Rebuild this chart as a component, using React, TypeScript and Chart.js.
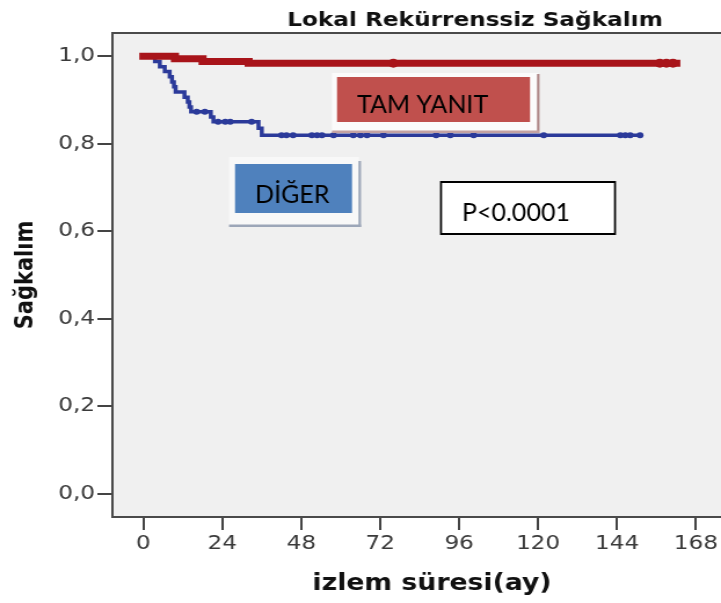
import React, { useEffect, useRef } from 'react';
import { Chart, registerables } from 'chart.js';

Chart.register(...registerables);

// ---- data ----
const chartTitle = 'Lokal Rekürrenssiz Sağkalım';
const xAxisTitle = 'izlem süresi(ay)';
const yAxisTitle = 'Sağkalım';

const xTickValues = [0, 24, 48, 72, 96, 120, 144, 168];
const yTickValues = [0, 0.2, 0.4, 0.6, 0.8, 1.0];

// TAM YANIT (complete response) - Kaplan-Meier steps
const redTimes = [0, 9.6, 18, 32, 162];
const redSurv = [1.0, 0.994, 0.988, 0.984, 0.984];
const redCensorTimes = [76, 157, 159, 161];

// DİĞER (other) - Kaplan-Meier steps
const blueTimes = [0, 3.5, 5, 6.5, 8, 8.7, 9.3, 9.8, 12.5, 13.5, 14, 14.5, 20.5, 21.3, 35, 36, 151];
const blueSurv = [1.0, 0.988, 0.976, 0.965, 0.953, 0.941, 0.93, 0.918, 0.906, 0.895, 0.884, 0.873, 0.861, 0.85, 0.835, 0.819, 0.819];
const blueCensorTimes = [16.2, 18.7, 22.7, 24.9, 26.4, 32.9, 42, 43.5, 45.5, 51.2, 52.8, 54.3, 57.8, 63.8, 66, 68, 73, 89, 93.3, 100.4, 121.7, 145, 146.5, 148, 151];

const groupLabels = ['TAM YANIT', 'DİĞER'];
const pValueText = 'P<0.0001';

// ---- layout constants ----
const SCREEN_W = 721;
const SCREEN_H = 603;
const CANVAS_W = 622;
const SX = SCREEN_W / CANVAS_W; // horizontal stretch of the chart picture

const survAt = (times: number[], surv: number[], t: number) => {
  let s = surv[0];
  for (let i = 0; i < times.length; i++) if (times[i] <= t) s = surv[i];
  return s;
};

const RED = '#a8141a';
const BLUE = '#2b3a9a';

const decorPlugin = {
  id: 'decor',
  beforeDraw(chart: any) {
    const { ctx, chartArea: a } = chart;
    ctx.save();
    ctx.fillStyle = '#ffffff';
    ctx.fillRect(0, 0, chart.width, chart.height);
    ctx.fillStyle = '#f0f0f0';
    ctx.fillRect(a.left, a.top, a.right - a.left, a.bottom - a.top);
    ctx.restore();
  },
  afterDraw(chart: any) {
    const { ctx, chartArea: a } = chart;
    ctx.save();
    // frame
    ctx.strokeStyle = '#4a4a4a';
    ctx.lineWidth = 2;
    ctx.strokeRect(a.left, a.top, a.right - a.left + 10, a.bottom - a.top);

    // titles (stretched with the chart)
    ctx.fillStyle = '#111';
    ctx.textAlign = 'center';
    ctx.textBaseline = 'alphabetic';
    ctx.font = 'bold 20px "DejaVu Sans"';
    ctx.fillText(chartTitle, 475 / SX, 26);
    ctx.font = 'bold 23px "DejaVu Sans"';
    ctx.fillText(xAxisTitle, 432 / SX, 590);
    ctx.save();
    ctx.translate(33 / SX, 275);
    ctx.rotate(-Math.PI / 2);
    ctx.font = 'bold 21px "DejaVu Sans"';
    ctx.fillText(yAxisTitle, 0, 0);
    ctx.restore();

    // annotation boxes (not stretched) - work in screen coordinates
    ctx.save();
    ctx.scale(1 / SX, 1);
    ctx.textAlign = 'left';
    ctx.textBaseline = 'alphabetic';
    ctx.font = '25px Lato';

    // TAM YANIT
    ctx.fillStyle = '#fbfbfb';
    ctx.fillRect(332, 73, 206, 58);
    ctx.fillStyle = '#b08a8a';
    ctx.fillRect(537, 74, 2.5, 59);
    ctx.fillStyle = '#c4a2a2';
    ctx.fillRect(332, 130.5, 207, 2.5);
    ctx.fillStyle = '#c0504d';
    ctx.fillRect(337, 77, 193, 45);
    ctx.fillStyle = '#000';
    ctx.fillText(groupLabels[0], 357, 113);

    // DİĞER
    ctx.fillStyle = '#f8f8f8';
    ctx.fillRect(229, 157, 130, 68);
    ctx.fillStyle = '#9ca6b8';
    ctx.fillRect(358.5, 161, 2.5, 66);
    ctx.fillRect(229, 224.5, 132, 2.5);
    ctx.fillStyle = '#4f81bd';
    ctx.fillRect(235, 164, 117, 49);
    ctx.fillStyle = '#000';
    ctx.fillText(groupLabels[1], 255, 203);

    // p value
    ctx.fillStyle = '#ffffff';
    ctx.fillRect(440, 181, 176, 54);
    ctx.strokeStyle = '#000';
    ctx.lineWidth = 2;
    ctx.strokeRect(441, 182, 174, 52);
    ctx.fillStyle = '#000';
    ctx.fillText(pValueText, 462, 221);
    ctx.restore();

    ctx.restore();
  },
};

export default function App() {
  const canvasRef = useRef<HTMLCanvasElement | null>(null);

  useEffect(() => {
    const canvas = canvasRef.current;
    if (!canvas) return;

    const redLine = redTimes.map((t, i) => ({ x: t, y: redSurv[i] }));
    const blueLine = blueTimes.map((t, i) => ({ x: t, y: blueSurv[i] }));
    const redCens = redCensorTimes.map((t) => ({ x: t, y: survAt(redTimes, redSurv, t) }));
    const blueCens = blueCensorTimes.map((t) => ({ x: t, y: survAt(blueTimes, blueSurv, t) }));

    const tickFont = { family: '"DejaVu Sans"', size: 20 };

    const chart = new Chart(canvas, {
      type: 'line',
      data: {
        datasets: [
          {
            label: 'TAM YANIT',
            data: redLine,
            stepped: 'before',
            borderColor: RED,
            borderWidth: 7,
            borderCapStyle: 'square',
            pointRadius: 0,
            fill: false,
            order: 1,
          } as any,
          {
            label: 'TAM YANIT censored',
            data: redCens,
            showLine: false,
            pointStyle: 'circle',
            pointRadius: 4.5,
            pointBackgroundColor: RED,
            pointBorderWidth: 0,
            order: 2,
          } as any,
          {
            label: 'DİĞER',
            data: blueLine,
            stepped: 'before',
            borderColor: BLUE,
            borderWidth: 3.5,
            pointRadius: 0,
            fill: false,
            order: 3,
          } as any,
          {
            label: 'DİĞER censored',
            data: blueCens,
            showLine: false,
            pointStyle: 'circle',
            pointRadius: 3,
            pointBackgroundColor: BLUE,
            pointBorderWidth: 0,
            order: 4,
          } as any,
        ],
      },
      options: {
        responsive: false,
        animation: false,
        devicePixelRatio: 1,
        layout: { padding: { top: 33, right: 0, left: 0, bottom: 0 }, autoPadding: false } as any,
        plugins: {
          legend: { display: false },
          tooltip: { enabled: false },
          title: { display: false },
        },
        scales: {
          x: {
            type: 'linear',
            min: -9.4,
            max: 175.6,
            afterBuildTicks: (s: any) => {
              s.ticks = xTickValues.map((v) => ({ value: v }));
            },
            afterFit: (s: any) => {
              s.height = 86;
            },
            ticks: {
              font: tickFont,
              color: '#3a3a3a',
              padding: 2,
              maxRotation: 0,
              autoSkip: false,
              callback: (v: any) => String(v),
            },
            grid: {
              drawOnChartArea: false,
              drawTicks: true,
              tickLength: 13,
              tickColor: '#444',
              lineWidth: 2,
            },
            border: { display: false },
          },
          y: {
            type: 'linear',
            min: -0.0535,
            max: 1.053,
            afterBuildTicks: (s: any) => {
              s.ticks = yTickValues.map((v) => ({ value: v }));
            },
            afterFit: (s: any) => {
              s.width = 97;
            },
            ticks: {
              font: tickFont,
              color: '#3a3a3a',
              padding: 2,
              autoSkip: false,
              callback: (v: any) => Number(v).toFixed(1).replace('.', ','),
            },
            grid: {
              drawOnChartArea: false,
              drawTicks: true,
              tickLength: 13,
              tickColor: '#444',
              lineWidth: 2,
            },
            border: { display: false },
          },
        },
      } as any,
      plugins: [decorPlugin],
    });

    return () => chart.destroy();
  }, []);

  return (
    <div style={{ position: 'absolute', left: 0, top: 0, width: SCREEN_W, height: SCREEN_H, background: '#fff', overflow: 'hidden' }}>
      <canvas
        ref={canvasRef}
        width={CANVAS_W}
        height={SCREEN_H}
        style={{ width: SCREEN_W + 'px', height: SCREEN_H + 'px', display: 'block' }}
      />
    </div>
  );
}
